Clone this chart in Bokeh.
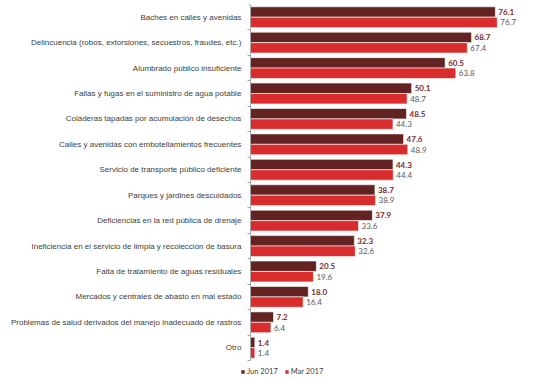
from bokeh.plotting import figure
from bokeh.models import ColumnDataSource, FixedTicker, Legend, LegendItem, Range1d
from bokeh.core.properties import value
from bokeh.embed import file_html
from bokeh.resources import INLINE

categories = [
    "Baches en calles y avenidas",
    "Delincuencia (robos, extorsiones, secuestros, fraudes, etc.)",
    "Alumbrado público insuficiente",
    "Fallas y fugas en el suministro de agua potable",
    "Coladeras tapadas por acumulación de desechos",
    "Calles y avenidas con embotellamientos frecuentes",
    "Servicio de transporte público deficiente",
    "Parques y jardines descuidados",
    "Deficiencias en la red pública de drenaje",
    "Ineficiencia en el servicio de limpia y recolección de basura",
    "Falta de tratamiento de aguas residuales",
    "Mercados y centrales de abasto en mal estado",
    "Problemas de salud derivados del manejo inadecuado de rastros",
    "Otro",
]
jun_2017 = [76.1, 68.7, 60.5, 50.1, 48.5, 47.6, 44.3, 38.7, 37.9, 32.3, 20.5, 18.0, 7.2, 1.4]
mar_2017 = [76.7, 67.4, 63.8, 48.7, 44.3, 48.9, 44.4, 38.9, 33.6, 32.6, 19.6, 16.4, 6.4, 1.4]
series_names = ["Jun 2017", "Mar 2017"]

n = len(categories)
centers = [n - 1 - i for i in range(n)]

DARK = "#622322"
RED = "#d92d2d"

src = ColumnDataSource(dict(
    y=centers,
    y_jun=[c + 0.205 for c in centers],
    y_mar=[c - 0.205 for c in centers],
    jun=jun_2017,
    mar=mar_2017,
    jun_lbl=[f"{v:.1f}" for v in jun_2017],
    mar_lbl=[f"{v:.1f}" for v in mar_2017],
))

p = figure(width=557, height=378, output_backend="svg", toolbar_location=None,
           x_range=Range1d(-77.6, 95.4), y_range=Range1d(-1.21, n - 0.5),
           min_border_left=0, min_border_right=0, min_border_top=4, min_border_bottom=0,
           outline_line_color=None)
p.grid.visible = False
p.xaxis.visible = False

r1 = p.hbar(y="y_jun", right="jun", left=0, height=0.41, source=src,
            fill_color=DARK, line_color="white", line_width=0.6)
r2 = p.hbar(y="y_mar", right="mar", left=0, height=0.41, source=src,
            fill_color=RED, line_color="white", line_width=0.6)

p.text(x="jun", y="y_jun", text="jun_lbl", source=src, x_offset=3,
       text_font=value("Lato"), text_font_style="bold", text_font_size="8px",
       text_color="#7b2a2a", text_baseline="middle", text_align="left")
p.text(x="mar", y="y_mar", text="mar_lbl", source=src, x_offset=3,
       text_font=value("Lato"), text_font_size="8px",
       text_color="#595959", text_baseline="middle", text_align="left")

yax = p.yaxis[0]
yax.fixed_location = 0
yax.bounds = (-0.5, n - 0.5)
yax.ticker = FixedTicker(ticks=centers, minor_ticks=[k - 0.5 for k in range(n + 1)])
yax.major_label_overrides = {c: categories[i] for i, c in enumerate(centers)}
yax.major_tick_out = 0
yax.major_tick_in = 0
yax.minor_tick_out = 3
yax.minor_tick_in = 0
yax.minor_tick_line_color = "#a6a6a6"
yax.axis_line_color = "#a6a6a6"
yax.major_label_text_font = "Liberation Sans"
yax.major_label_text_font_size = "8px"
yax.major_label_text_color = "#404040"
yax.major_label_standoff = 6

legend = Legend(items=[LegendItem(label=series_names[0], renderers=[r1]),
                       LegendItem(label=series_names[1], renderers=[r2])],
                orientation="horizontal", location=(240, 2),
                label_text_font="Lato", label_text_font_size="7.5px",
                label_text_color="#404040", glyph_width=5, glyph_height=5,
                label_standoff=2, spacing=6, padding=0, margin=0,
                border_line_color=None, background_fill_alpha=0,
                label_height=8)
p.add_layout(legend)

open("out.html", "w").write(file_html(p, INLINE))
